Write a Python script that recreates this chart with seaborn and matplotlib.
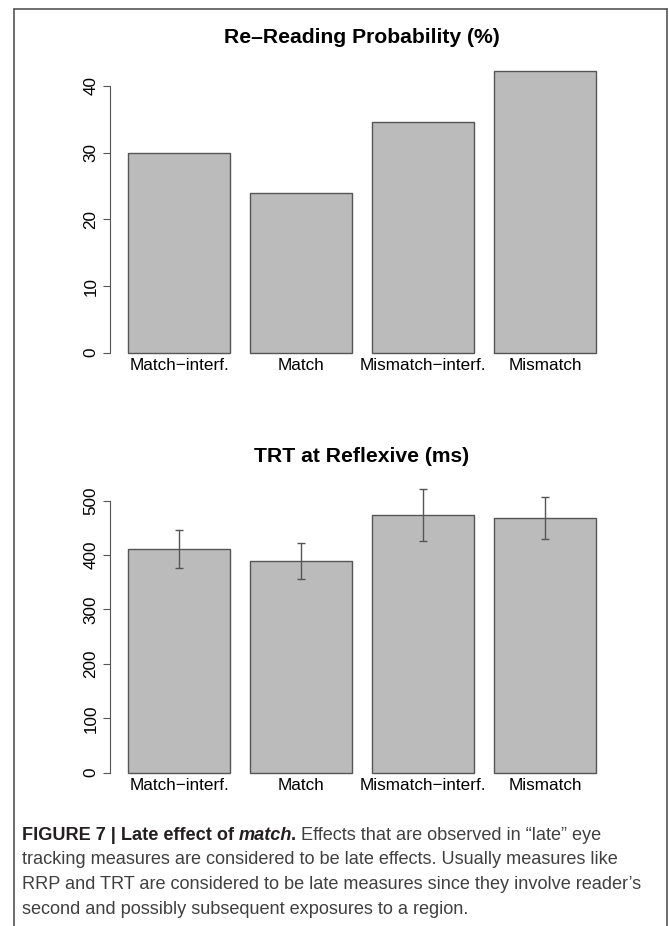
import numpy as np
import pandas as pd
import matplotlib
matplotlib.use("Agg")
import matplotlib.pyplot as plt
import seaborn as sns
from matplotlib.lines import Line2D

conditions = ["Match\u2212interf.", "Match", "Mismatch\u2212interf.", "Mismatch"]
rrp = [29.9, 23.9, 34.6, 42.3]
trt = [411, 389, 473, 468]
trt_lo = [376, 356, 426, 429]
trt_hi = [447, 423, 521, 507]

sns.set_style("white")
plt.rcParams["font.family"] = ["Liberation Sans", "DejaVu Sans"]

W, H = 669, 926
fig = plt.figure(figsize=(W / 100, H / 100), dpi=100)


def box(x0, y0, x1, y1):
    return [x0 / W, 1 - y1 / H, (x1 - x0) / W, (y1 - y0) / H]


ax1 = fig.add_axes(box(109.6, 59.7, 614.4, 364))
ax2 = fig.add_axes(box(109.6, 478.5, 614.4, 784))

bar_kw = dict(color="#bbbbbb", edgecolor="#555555", linewidth=1, width=0.833,
              saturation=1, errorbar=None)

df1 = pd.DataFrame({"cond": conditions, "val": rrp})
sns.barplot(data=df1, x="cond", y="val", ax=ax1, **bar_kw)

df2 = pd.DataFrame({"cond": conditions, "val": trt})
sns.barplot(data=df2, x="cond", y="val", ax=ax2, **bar_kw)
pos = np.arange(len(conditions))
err = [np.array(trt) - np.array(trt_lo), np.array(trt_hi) - np.array(trt)]
ax2.errorbar(pos, trt, yerr=err, fmt="none", ecolor="#555555",
             elinewidth=1, capsize=3, capthick=1)


def style(ax, ymax, step, ylim, title):
    ax.set_xlim(-0.57, 3.57)
    ax.set_ylim(*ylim)
    for s in ["top", "right", "bottom"]:
        ax.spines[s].set_visible(False)
    ax.spines["left"].set_bounds(0, ymax)
    ax.spines["left"].set_color("#555555")
    ax.spines["left"].set_linewidth(0.8)
    ax.set_yticks(range(0, ymax + 1, step))
    ax.tick_params(axis="y", left=True, length=5, width=0.8, color="#555555",
                   labelsize=12.3, labelcolor="black", pad=3)
    for lab in ax.get_yticklabels():
        lab.set_rotation(90)
        lab.set_va("center")
    ax.tick_params(axis="x", bottom=False, length=0, pad=-4.5, labelsize=12.3,
                   labelcolor="black")
    ax.set_xlabel("")
    ax.set_ylabel("")
    ax.set_title(title, fontsize=15.2, fontweight="bold", pad=12, color="black")


style(ax1, 40, 10, (-1.69, 43.94), "Re\u2013Reading Probability (%)")
style(ax2, 500, 100, (-20.8, 540.8), "TRT at Reflexive (ms)")

# frame around figure
fc = "#555555"
fig.add_artist(Line2D([14 / W, 14 / W], [0, 1 - 8.5 / H], color=fc, lw=1.2))
fig.add_artist(Line2D([14 / W, 667 / W], [1 - 8.5 / H, 1 - 8.5 / H], color=fc, lw=1.2))
fig.add_artist(Line2D([667 / W, 667 / W], [0, 1 - 8.5 / H], color=fc, lw=1.2))

# caption
fs = 13.1
dark = "#231f20"
grey = "#404040"
t = fig.text(22 / W, 1 - 844 / H, "FIGURE 7 | Late effect of", fontsize=fs,
             fontweight="bold", color=dark, va="bottom")
t = ax2.annotate("match", xy=(1, 0), xycoords=t, xytext=(3.6, 0),
                 textcoords="offset points", va="bottom", ha="left",
                 fontsize=fs, fontweight="bold", fontstyle="italic",
                 color=dark, annotation_clip=False)
t = ax2.annotate(".", xy=(1, 0), xycoords=t, xytext=(-1.0, 0),
                 textcoords="offset points", va="bottom", ha="left",
                 fontsize=fs, fontweight="bold", color=dark, annotation_clip=False)
ax2.annotate("Effects that are observed in \u201clate\u201d eye", xy=(1, 0),
             xycoords=t, xytext=(3.6, 0), textcoords="offset points",
             va="bottom", ha="left", fontsize=fs, color=grey,
             annotation_clip=False)

lines = [
    "tracking measures are considered to be late effects. Usually measures like",
    "RRP and TRT are considered to be late measures since they involve reader\u2019s",
    "second and possibly subsequent exposures to a region.",
]
for i, line in enumerate(lines):
    fig.text(22 / W, 1 - (868.5 + 24.5 * i) / H, line, fontsize=fs, color=grey,
             va="bottom")

fig.savefig("out.png", dpi=100)
